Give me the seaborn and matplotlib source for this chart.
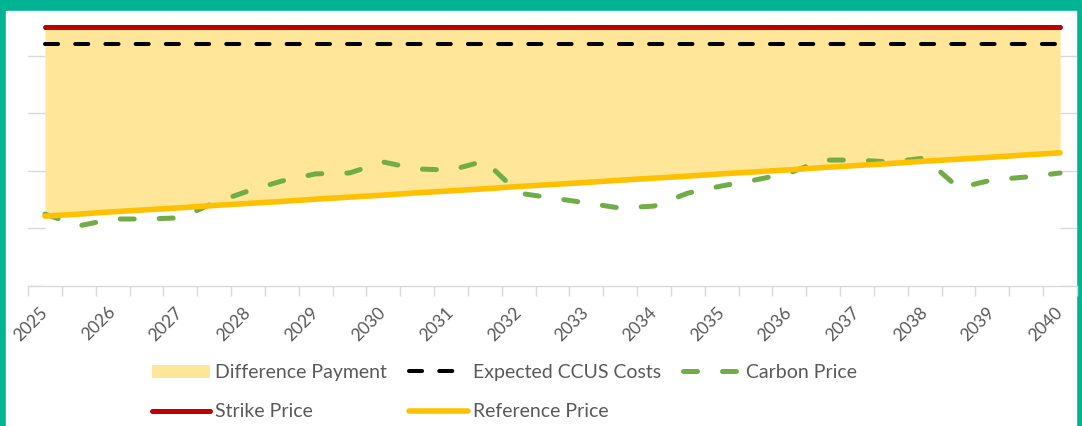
import matplotlib
matplotlib.use('Agg')
import matplotlib.pyplot as plt
import seaborn as sns
import numpy as np
import pandas as pd
from matplotlib.patches import Rectangle, Patch
from matplotlib.lines import Line2D

# category axis: half-year steps, labelled once a year
years = list(range(2025, 2041))
periods = np.arange(2025, 2040.5, 0.5)

strike_level = 90
ccus_level = 84

carbon_price = [25.0, 20.9, 23.3, 23.3, 23.7, 28.9, 33.0, 36.5, 39.0, 39.3,
                43.1, 40.7, 40.3, 43.5, 32.3, 30.6, 28.9, 27.1, 27.8, 32.3,
                34.8, 36.9, 39.3, 43.8, 43.8, 43.1, 44.5, 34.1, 36.9, 37.9, 39.3]
reference_price = [24.3, 25.0, 25.8, 26.5, 27.2, 28.0, 28.7, 29.4, 30.2, 30.9,
                   31.6, 32.4, 33.1, 33.8, 34.6, 35.3, 36.0, 36.8, 37.5, 38.2,
                   39.0, 39.7, 40.4, 41.2, 41.9, 42.6, 43.4, 44.1, 44.8, 45.6, 46.3]

df = pd.DataFrame({
    'period': periods,
    'carbon': carbon_price,
    'reference': reference_price,
})
df['strike'] = strike_level
df['ccus'] = ccus_level

sns.set_theme(style='white')
plt.rcParams['font.family'] = ['Lato', 'DejaVu Sans']

W, H = 1082, 426
fig = plt.figure(figsize=(W / 100, H / 100), dpi=100)
fig.patch.set_facecolor('#00B493')
# white card inside the teal frame
fig.add_artist(Rectangle((6 / W, 0), (1076 - 6) / W, (H - 11) / H,
                         transform=fig.transFigure, color='white', zorder=-1))

ax = fig.add_axes([28 / W, 140 / H, 1049 / W, 266 / H])
ax.set_facecolor('none')

# gridlines sit under the fills, so they only show outside the data range
ax.yaxis.grid(True, color='#d9d9d9', lw=1)
ax.set_axisbelow(True)

ax.fill_between(df['period'], 0, df['reference'], color='white', lw=0, zorder=1)
ax.fill_between(df['period'], df['reference'], df['strike'], color='#FFE699',
                lw=0, zorder=1)

sns.lineplot(data=df, x='period', y='strike', ax=ax, color='#C00000', lw=3.6,
             legend=False, zorder=3)
sns.lineplot(data=df, x='period', y='ccus', ax=ax, color='black', lw=2.9,
             linestyle=(0, (3.25, 4.25)), dash_capstyle='round',
             legend=False, zorder=3)
sns.lineplot(data=df, x='period', y='carbon', ax=ax, color='#70AD47', lw=3.6,
             linestyle=(0, (2.8, 5.0)), dash_capstyle='round',
             legend=False, zorder=3)
sns.lineplot(data=df, x='period', y='reference', ax=ax, color='#FFC000', lw=4.0,
             legend=False, zorder=4)

ax.set_xlim(2024.75, 2040.25)
ax.set_ylim(0, 92.5)
ax.set_xlabel('')
ax.set_ylabel('')

ax.set_yticks([0, 20, 40, 60, 80])
ax.set_yticklabels([])
ax.tick_params(axis='y', length=0)

ax.set_xticks(years)
ax.set_xticklabels([str(y) for y in years], rotation=45, ha='right',
                   va='center', rotation_mode='anchor',
                   color='#595959', fontsize=12.5)
ax.set_xticks(np.arange(2024.75, 2040.3, 0.5), minor=True)
ax.tick_params(axis='x', which='major', length=0, pad=17, bottom=True)
ax.tick_params(axis='x', which='minor', length=7, width=1, color='#d9d9d9',
               bottom=True, direction='out')

for side in ['left', 'right', 'top']:
    ax.spines[side].set_visible(False)
ax.spines['bottom'].set_color('#d9d9d9')
ax.spines['bottom'].set_linewidth(1)

# legend, column-major so rows read like the original
handles = [
    Patch(facecolor='#FFE699', edgecolor='none'),
    Line2D([], [], color='#C00000', lw=3.6, solid_capstyle='round'),
    Line2D([], [], color='black', lw=2.9, linestyle=(0, (3.25, 4.25)),
           dash_capstyle='round'),
    Line2D([], [], color='#FFC000', lw=4.0, solid_capstyle='round'),
    Line2D([], [], color='#70AD47', lw=3.6, linestyle=(0, (2.8, 5.0)),
           dash_capstyle='round'),
]
labels = ['Difference Payment', 'Strike Price', 'Expected CCUS Costs',
          'Reference Price', 'Carbon Price']
leg = fig.legend(handles, labels, ncol=3, loc='upper left',
                 bbox_to_anchor=(152 / W, 1 - 364 / H), frameon=False,
                 fontsize=14, handlelength=3.0, handleheight=0.65,
                 handletextpad=0.25, columnspacing=1.15, labelspacing=1.15,
                 borderpad=0, borderaxespad=0)
for t in leg.get_texts():
    t.set_color('#595959')

fig.savefig('out.png', dpi=100, facecolor=fig.get_facecolor())
